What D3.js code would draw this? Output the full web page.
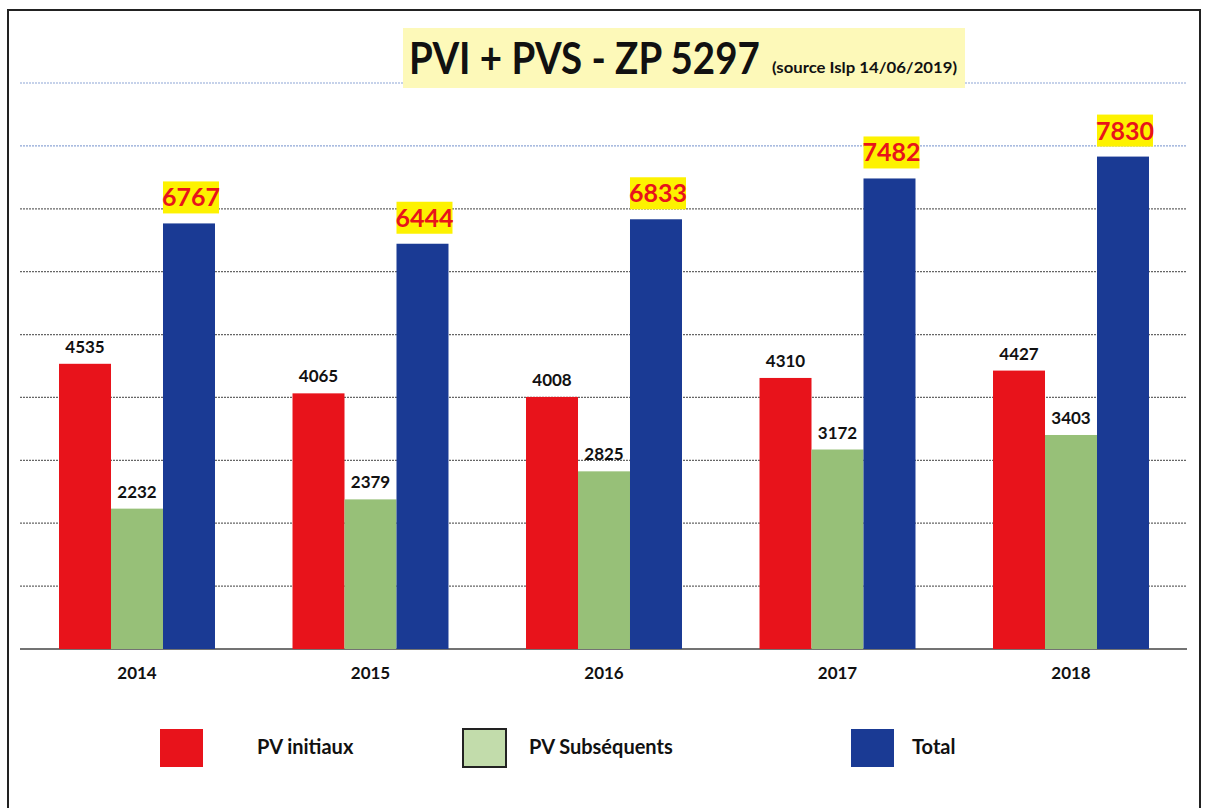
<!DOCTYPE html>
<html><head><meta charset="utf-8">
<script src="https://cdn.jsdelivr.net/npm/d3@7/dist/d3.min.js"></script>
<style>body{margin:0;background:#fff;} svg{display:block;} text{font-family:Lato,"Open Sans",sans-serif;font-weight:bold;}</style>
</head><body>
<svg id="c" width="1211" height="808"></svg>
<script>
const years = ["2014","2015","2016","2017","2018"];
const seriesNames = ["PV initiaux","PV Subséquents","Total"];
const pvInitiaux = [4535,4065,4008,4310,4427];
const pvSubsequents = [2232,2379,2825,3172,3403];
const total = [6767,6444,6833,7482,7830];
const yTicks = [0,1000,2000,3000,4000,5000,6000,7000,8000,9000];
const colors = ["#e8131b","#97c078","#1a3a94"];
const legendColors = ["#e8131b","#c2dcab","#1a3a94"];
const seriesValues = [pvInitiaux,pvSubsequents,total];

const svg = d3.select("#c");
// frame
svg.append("rect").attr("x",8).attr("y",10).attr("width",1192).attr("height",805)
  .attr("fill","none").attr("stroke","#222").attr("stroke-width",2);

const y = d3.scaleLinear().domain([0,9000]).range([649,83]);
const x0 = d3.scaleBand().domain(years).range([20.25,1187.75]).paddingInner(0.332).paddingOuter(0.166);
const x1 = d3.scaleBand().domain(seriesNames).range([0,x0.bandwidth()]);

// gridlines
const grid = svg.append("g");
grid.selectAll("line").data(yTicks.filter(t=>t>0)).join("line")
  .attr("x1",20).attr("x2",1187).attr("y1",d=>y(d)).attr("y2",d=>y(d))
  .attr("stroke",d=>d>=8000?"#8ea6d6":"#666").attr("stroke-width",1.2)
  .attr("stroke-dasharray","2,1");
// baseline axis
const xAxis = d3.axisBottom(x0).tickSize(0).tickPadding(18);
const ax = svg.append("g").attr("transform",`translate(0,${y(0)})`).call(xAxis);
ax.select(".domain").attr("d",`M20,0H1187`).attr("stroke","#444").attr("stroke-width",1.5);
ax.selectAll("text").attr("font-size",17).attr("fill","#111").style("font-family","Lato").style("font-weight","bold");

// bars
const data = [];
years.forEach((yr,i)=>seriesNames.forEach((s,j)=>data.push({yr,s,j,v:seriesValues[j][i]})));
svg.append("g").selectAll("rect").data(data).join("rect")
  .attr("x",d=>x0(d.yr)+x1(d.s)).attr("width",x1.bandwidth())
  .attr("y",d=>y(d.v)).attr("height",d=>y(0)-y(d.v)).attr("fill",d=>colors[d.j]);

// labels for red/green
svg.append("g").selectAll("text").data(data.filter(d=>d.j<2)).join("text")
  .attr("x",d=>x0(d.yr)+x1(d.s)+x1.bandwidth()/2).attr("y",d=>y(d.v)-11)
  .attr("text-anchor","middle").attr("font-size",17).attr("fill","#111").text(d=>d.v);

// total labels
const tl = svg.append("g").selectAll("g").data(data.filter(d=>d.j===2)).join("g")
  .attr("transform",d=>`translate(${x0(d.yr)+x1(d.s)+x1.bandwidth()/2+2},${y(d.v)-10})`);
tl.append("rect").attr("x",-28).attr("y",-32).attr("width",56).attr("height",32).attr("fill","#fdf200");
tl.append("text").attr("x",0).attr("y",-7).attr("text-anchor","middle").attr("font-size",25)
  .attr("fill","#e8131b").text(d=>d.v);

// title
svg.append("rect").attr("x",403).attr("y",28).attr("width",562).attr("height",60).attr("fill","#fdf9b9");
svg.append("text").attr("transform","translate(409,74) scale(1,1.15)").attr("font-size",38.5).attr("fill","#111")
  .text("PVI + PVS - ZP 5297");
svg.append("text").attr("x",772).attr("y",73).attr("font-size",15).attr("fill","#111")
  .attr("textLength",185).attr("lengthAdjust","spacingAndGlyphs").text("(source Islp 14/06/2019)");

// legend
const legX = [160,463,851], legTX=[257,529,912];
const lg = svg.append("g").selectAll("g").data(seriesNames).join("g");
lg.append("rect").attr("x",(d,i)=>legX[i]).attr("y",729).attr("width",43).attr("height",38)
  .attr("fill",(d,i)=>legendColors[i]).attr("stroke",(d,i)=>i===1?"#222":"none").attr("stroke-width",2);
lg.append("text").attr("x",(d,i)=>legTX[i]).attr("y",754).attr("font-size",20).attr("fill","#111").text(d=>d);
</script>
</body></html>
